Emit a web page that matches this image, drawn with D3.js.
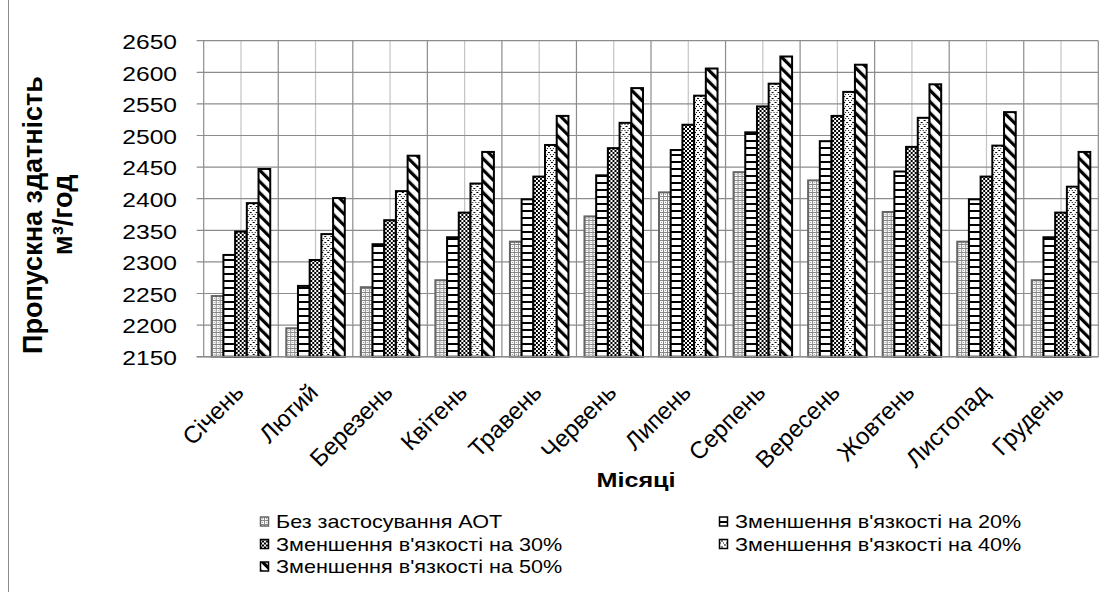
<!DOCTYPE html>
<html>
<head>
<meta charset="utf-8">
<script src="https://cdn.jsdelivr.net/npm/d3@7"></script>
<style>
  html, body { margin: 0; padding: 0; background: #fff; }
  svg { display: block; font-family: 'Liberation Sans', Arial, sans-serif; }
</style>
</head>
<body>
<svg id="chart" width="1106" height="592"></svg>
<script>
// ------------------
// Data
// ------------------
const months = ['Січень', 'Лютий', 'Березень', 'Квітень', 'Травень', 'Червень',
  'Липень', 'Серпень', 'Вересень', 'Жовтень', 'Листопад', 'Грудень']

const seriesNames = [
  'Без застосування АОТ',
  'Зменшення в\'язкості на 20%',
  'Зменшення в\'язкості на 30%',
  'Зменшення в\'язкості на 40%',
  'Зменшення в\'язкості на 50%'
]

const noDRA = [2246, 2195, 2260, 2271, 2332, 2372, 2410, 2442, 2429, 2379, 2332, 2271]
const cut20 = [2311, 2262, 2328, 2339, 2399, 2437, 2477, 2505, 2491, 2443, 2399, 2339]
const cut30 = [2348, 2303, 2366, 2378, 2435, 2480, 2517, 2546, 2531, 2482, 2435, 2378]
const cut40 = [2393, 2344, 2412, 2424, 2485, 2520, 2563, 2582, 2569, 2528, 2484, 2419]
const cut50 = [2447, 2401, 2468, 2474, 2531, 2575, 2606, 2625, 2612, 2581, 2537, 2474]

const yTicks = [2150, 2200, 2250, 2300, 2350, 2400, 2450, 2500, 2550, 2600, 2650]

const seriesValues = [noDRA, cut20, cut30, cut40, cut50]

// ------------------
// Setup
// ------------------
const svg = d3.select('#chart')
const W = 1106, H = 592
const plot = { left: 203.7, right: 1098.3, top: 40.7, bottom: 356.7 }
const sx = 1.2 // horizontal text looks stretched in the picture

const x0 = d3.scaleBand()
  .domain(months)
  .range([plot.left, plot.right])
  .paddingInner(0.215)
  .paddingOuter(0.1075)

const x1 = d3.scaleBand()
  .domain(d3.range(seriesNames.length))
  .range([0, x0.bandwidth()])

const y = d3.scaleLinear()
  .domain([2150, 2650])
  .range([plot.bottom, plot.top])

// ------------------
// Patterns
// ------------------
const defs = svg.append('defs')

const p0 = defs.append('pattern').attr('id', 'pat0')
  .attr('patternUnits', 'userSpaceOnUse').attr('width', 4).attr('height', 4)
p0.append('rect').attr('width', 4).attr('height', 4).attr('fill', '#fff')
p0.append('rect').attr('x', 0).attr('y', 0).attr('width', 1).attr('height', 4).attr('fill', '#888')
p0.append('rect').attr('x', 0).attr('y', 0).attr('width', 4).attr('height', 1).attr('fill', '#888')
p0.append('rect').attr('x', 2).attr('y', 2).attr('width', 1).attr('height', 1).attr('fill', '#999')

const p1 = defs.append('pattern').attr('id', 'pat1')
  .attr('patternUnits', 'userSpaceOnUse').attr('width', 8).attr('height', 7)
p1.append('rect').attr('width', 8).attr('height', 7).attr('fill', '#fff')
p1.append('rect').attr('y', 0).attr('width', 8).attr('height', 2).attr('fill', '#000')

const p2 = defs.append('pattern').attr('id', 'pat2')
  .attr('patternUnits', 'userSpaceOnUse').attr('width', 4).attr('height', 4)
p2.append('rect').attr('width', 4).attr('height', 4).attr('fill', '#fff')
p2.append('rect').attr('x', 0).attr('y', 0).attr('width', 2).attr('height', 2).attr('fill', '#000')
p2.append('rect').attr('x', 2).attr('y', 2).attr('width', 2).attr('height', 2).attr('fill', '#000')

const p3 = defs.append('pattern').attr('id', 'pat3')
  .attr('patternUnits', 'userSpaceOnUse').attr('width', 6).attr('height', 6)
p3.append('rect').attr('width', 6).attr('height', 6).attr('fill', '#fff')
p3.append('path').attr('d', 'M0,0L6,6M6,0L0,6')
  .attr('stroke', '#000').attr('stroke-width', 1).attr('stroke-dasharray', '1.4,1.4')

const p4 = defs.append('pattern').attr('id', 'pat4')
  .attr('patternUnits', 'userSpaceOnUse').attr('width', 8).attr('height', 8)
  .attr('patternTransform', 'rotate(-45)')
p4.append('rect').attr('width', 8).attr('height', 8).attr('fill', '#fff')
p4.append('rect').attr('x', 0).attr('width', 3.2).attr('height', 8).attr('fill', '#000')

const fills = ['url(#pat0)', 'url(#pat1)', 'url(#pat2)', 'url(#pat3)', 'url(#pat4)']
const strokes = ['#666', '#000', '#000', '#000', '#000']

// outer chart border
svg.append('line')
  .attr('x1', 8.5).attr('x2', 8.5).attr('y1', 0).attr('y2', H)
  .attr('stroke', '#8c8c8c').attr('stroke-width', 1)

// ------------------
// Grid
// ------------------
const grid = svg.append('g')

// minor vertical lines at category centres
grid.selectAll('.vmin')
  .data(months)
  .enter()
  .append('line')
  .attr('x1', d => x0(d) + x0.bandwidth() / 2)
  .attr('x2', d => x0(d) + x0.bandwidth() / 2)
  .attr('y1', plot.top).attr('y2', plot.bottom)
  .attr('stroke', '#c4c4c4').attr('stroke-width', 1.2)

// major vertical lines at category boundaries
const bounds = months.map(d => x0(d) - x0.step() * x0.paddingOuter())
bounds.push(plot.right)
grid.selectAll('.vmaj')
  .data(bounds)
  .enter()
  .append('line')
  .attr('x1', d => d).attr('x2', d => d)
  .attr('y1', plot.top).attr('y2', plot.bottom)
  .attr('stroke', '#8c8c8c').attr('stroke-width', 1.2)

grid.selectAll('.h')
  .data(yTicks)
  .enter()
  .append('line')
  .attr('x1', plot.left - 7).attr('x2', plot.right)
  .attr('y1', d => y(d)).attr('y2', d => y(d))
  .attr('stroke', '#8c8c8c').attr('stroke-width', 1.2)

// ------------------
// Bars
// ------------------
const groups = svg.append('g')
  .selectAll('g')
  .data(months)
  .enter()
  .append('g')
  .attr('transform', d => `translate(${x0(d)},0)`)

groups.selectAll('rect')
  .data((d, i) => seriesValues.map((vals, s) => ({ s, v: vals[i] })))
  .enter()
  .append('rect')
  .attr('x', d => x1(d.s))
  .attr('y', d => y(d.v))
  .attr('width', x1.bandwidth())
  .attr('height', d => y(2150) - y(d.v))
  .attr('fill', d => fills[d.s])
  .attr('stroke', d => strokes[d.s])
  .attr('stroke-width', 2)

// baseline
svg.append('line')
  .attr('x1', plot.left - 7).attr('x2', plot.right)
  .attr('y1', y(2150)).attr('y2', y(2150))
  .attr('stroke', '#8c8c8c').attr('stroke-width', 1.5)

// ------------------
// Axis labels
// ------------------
svg.append('g')
  .selectAll('text')
  .data(yTicks)
  .enter()
  .append('text')
  .attr('transform', d => `translate(177,${y(d)}) scale(${sx},1)`)
  .attr('text-anchor', 'end')
  .attr('dy', '0.4em')
  .attr('font-size', 20.5)
  .attr('fill', '#000')
  .text(d => d)

svg.append('g')
  .selectAll('text')
  .data(months)
  .enter()
  .append('text')
  .attr('transform', d => `translate(${x0(d) + x0.bandwidth() / 2 + 4},394) rotate(-45)`)
  .attr('text-anchor', 'end')
  .attr('font-size', 24)
  .attr('fill', '#000')
  .text(d => d)

svg.append('text')
  .attr('transform', `translate(636,487) scale(${sx},1)`)
  .attr('text-anchor', 'middle')
  .attr('font-size', 21)
  .attr('font-weight', 'bold')
  .text('Місяці')

svg.append('text')
  .attr('transform', 'translate(42,215) rotate(-90)')
  .attr('text-anchor', 'middle')
  .attr('font-size', 27)
  .attr('font-weight', 'bold')
  .text('Пропускна здатність')

svg.append('text')
  .attr('transform', 'translate(72,215) rotate(-90)')
  .attr('text-anchor', 'middle')
  .attr('font-size', 27)
  .attr('font-weight', 'bold')
  .text('м³/год')

// ------------------
// Legend
// ------------------
const legendPos = [
  { x: 260, y: 528 },
  { x: 719, y: 528 },
  { x: 260, y: 550.5 },
  { x: 719, y: 550.5 },
  { x: 260, y: 573 }
]

const legend = svg.append('g')
  .selectAll('g')
  .data(seriesNames)
  .enter()
  .append('g')
  .attr('transform', (d, i) => `translate(${legendPos[i].x},${legendPos[i].y})`)

legend.append('rect')
  .attr('x', 0.5).attr('y', -11)
  .attr('width', 8).attr('height', 9)
  .attr('fill', (d, i) => fills[i])
  .attr('stroke', (d, i) => strokes[i])
  .attr('stroke-width', 1.5)

legend.append('text')
  .attr('transform', `translate(16,0) scale(${sx},1)`)
  .attr('font-size', 18)
  .attr('fill', '#000')
  .text(d => d)
</script>
</body>
</html>
